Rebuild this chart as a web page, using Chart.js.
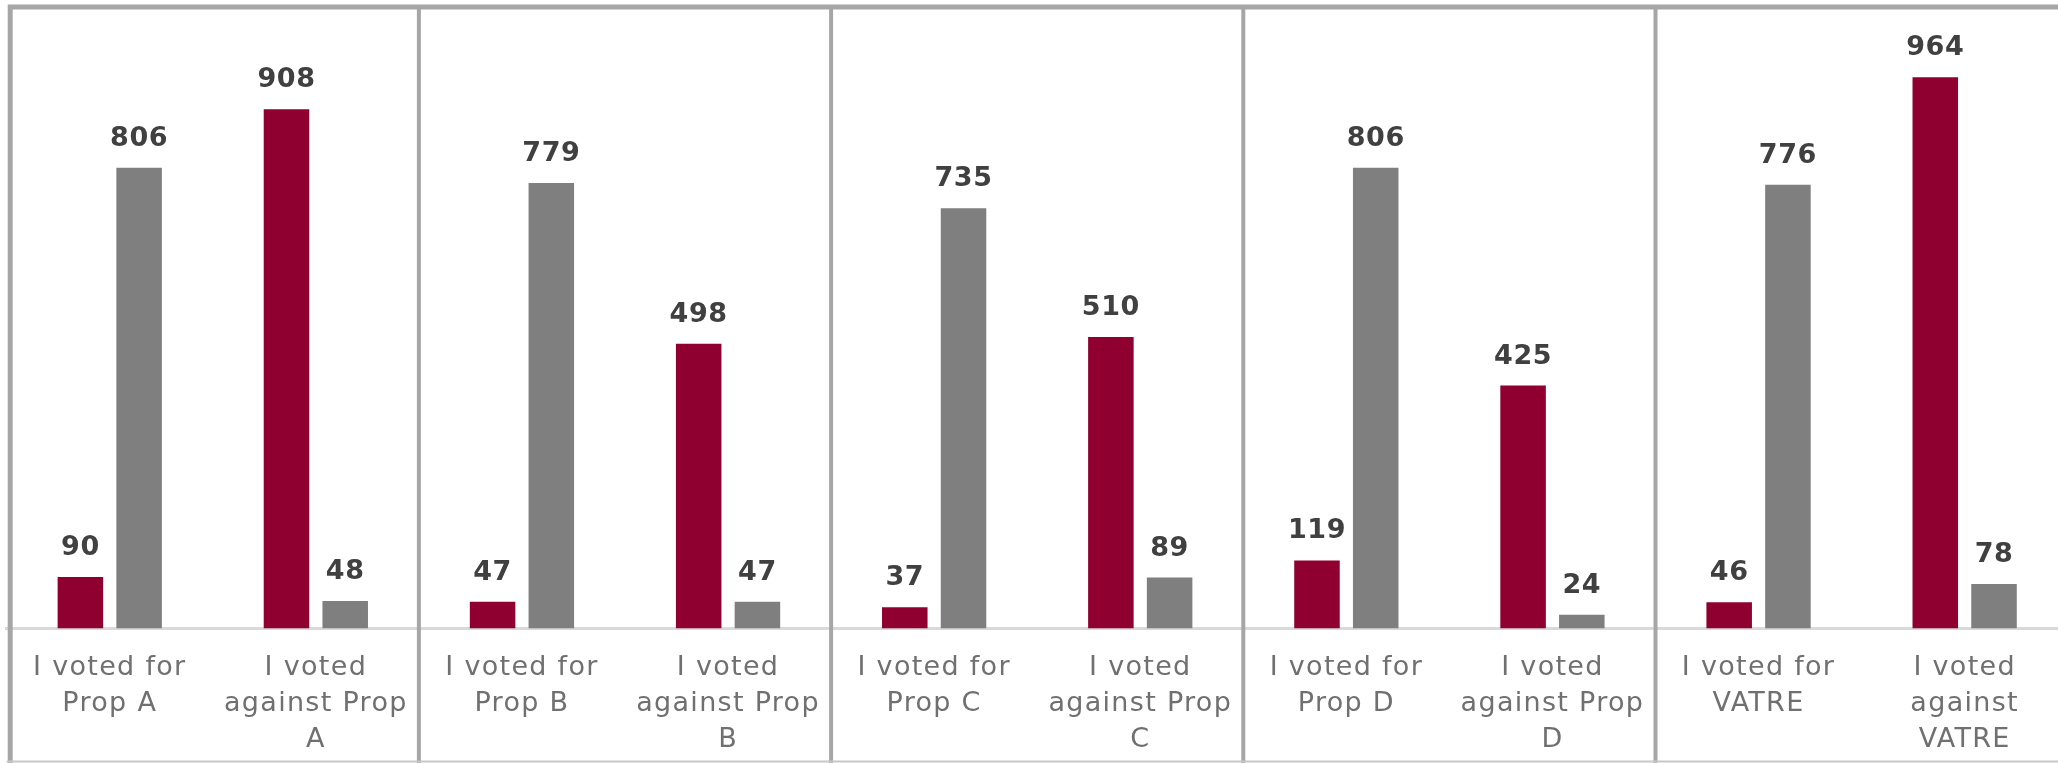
<!DOCTYPE html>
<html>
<head>
<meta charset="utf-8">
<script src="https://cdn.jsdelivr.net/npm/chart.js@4/dist/chart.umd.min.js"></script>
<style>
  html, body { margin: 0; padding: 0; background: #fff; overflow: hidden; }
  #wrap { width: 2070px; height: 763px; }
</style>
</head>
<body>
<div id="wrap"><canvas id="voteChart" width="2070" height="763"></canvas></div>
<script>
// Chart values
const categories = [
    ['I voted for', 'Prop A'], ['I voted', 'against Prop', 'A'],
    ['I voted for', 'Prop B'], ['I voted', 'against Prop', 'B'],
    ['I voted for', 'Prop C'], ['I voted', 'against Prop', 'C'],
    ['I voted for', 'Prop D'], ['I voted', 'against Prop', 'D'],
    ['I voted for', 'VATRE'], ['I voted', 'against', 'VATRE']
];
const redValues = [90, 908, 47, 498, 37, 510, 119, 425, 46, 964];
const greyValues = [806, 48, 779, 47, 735, 89, 806, 24, 776, 78];

const FONT = "'DejaVu Sans', Verdana, sans-serif";

// the original text is set wide, so space the letters out a bit
const wideText = {
    id: 'wideText',
    beforeDraw(chart) { chart.ctx.letterSpacing = '1.3px'; },
    afterDraw(chart) { chart.ctx.letterSpacing = '0px'; }
};

// panel frame: top + left border, dividers every two categories, bottom line
const framePlugin = {
    id: 'frame',
    afterDraw(chart) {
        const ctx = chart.ctx;
        const area = chart.chartArea;
        const x = chart.scales.x;
        const step = x.getPixelForValue(1) - x.getPixelForValue(0);
        ctx.save();
        ctx.strokeStyle = '#a6a6a6';
        ctx.lineWidth = 5;
        ctx.beginPath();
        ctx.moveTo(area.left + 3.5, chart.height);
        ctx.lineTo(area.left + 3.5, area.top);
        ctx.lineTo(chart.width, area.top);
        ctx.stroke();
        ctx.lineWidth = 4;
        for (let i = 2; i < categories.length; i += 2) {
            const px = x.getPixelForValue(i) - step / 2;
            ctx.beginPath();
            ctx.moveTo(px, area.top);
            ctx.lineTo(px, chart.height);
            ctx.stroke();
        }
        ctx.strokeStyle = '#c8c8c8';
        ctx.lineWidth = 2;
        ctx.beginPath();
        ctx.moveTo(area.left, chart.height - 1.5);
        ctx.lineTo(chart.width, chart.height - 1.5);
        ctx.stroke();
        ctx.restore();
    }
};

// value labels above each bar
const valueLabels = {
    id: 'valueLabels',
    afterDatasetsDraw(chart) {
        const ctx = chart.ctx;
        ctx.save();
        ctx.letterSpacing = '0.6px';
        ctx.font = 'bold 27px ' + FONT;
        ctx.fillStyle = '#404040';
        ctx.textAlign = 'center';
        ctx.textBaseline = 'alphabetic';
        chart.data.datasets.forEach((ds, di) => {
            chart.getDatasetMeta(di).data.forEach((bar, i) => {
                ctx.fillText(ds.data[i], bar.x, bar.y - 22);
            });
        });
        ctx.restore();
    }
};

new Chart(document.getElementById('voteChart'), {
    type: 'bar',
    data: {
        labels: categories,
        datasets: [{
            data: redValues,
            backgroundColor: '#8f0030'
        }, {
            data: greyValues,
            backgroundColor: '#7f7f7f'
        }]
    },
    options: {
        responsive: false,
        animation: false,
        categoryPercentage: 0.57,
        barPercentage: 0.775,
        layout: { padding: { left: 6.7, right: 2.3, top: 7, bottom: 0 } },
        plugins: {
            legend: { display: false },
            tooltip: { enabled: false }
        },
        scales: {
            y: { display: false, min: 0, max: 1087 },
            x: {
                grid: { display: false, drawTicks: false },
                border: { display: true, color: '#d9d9d9', width: 3 },
                ticks: {
                    autoSkip: false,
                    maxRotation: 0,
                    padding: 21,
                    color: '#707070',
                    font: { family: FONT, size: 27, lineHeight: 1.34 }
                },
                afterFit(scale) { scale.height = 134.5; }
            }
        }
    },
    plugins: [wideText, framePlugin, valueLabels]
});
</script>
</body>
</html>
